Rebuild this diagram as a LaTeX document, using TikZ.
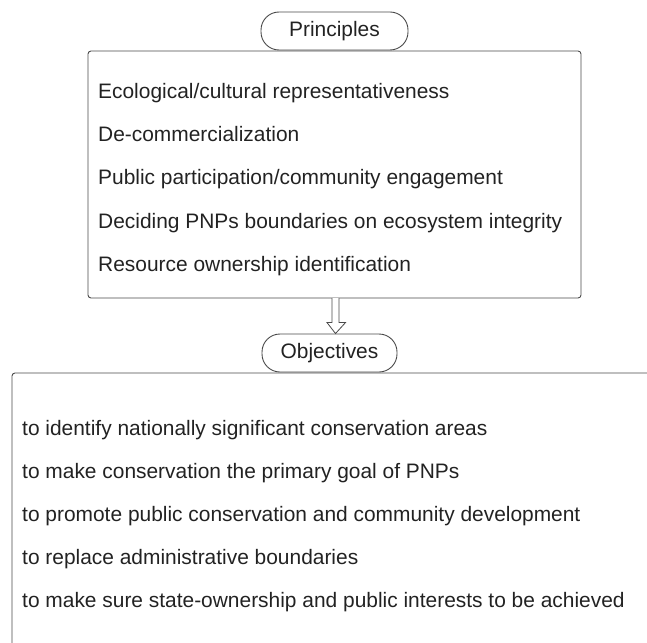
\documentclass[tikz,border=0pt]{standalone}
\usepackage{fontspec}
\setmainfont{Liberation Sans}
\usetikzlibrary{calc}
\definecolor{edge}{HTML}{4A4A4A}
\definecolor{ink}{HTML}{222222}
\tikzset{
  pill/.style={draw=edge, line width=0.9bp, rounded corners=18bp, inner sep=0pt,
    font=\fontsize{21}{25}\selectfont, text=ink},
  panel/.style={draw=edge, line width=0.9bp, rounded corners=3bp},
  item/.style={anchor=base west, inner sep=0pt, font=\fontsize{21}{25}\selectfont, text=ink},
  hollow/.style={draw=edge, line width=0.8bp, fill=white, line join=miter}
}
\begin{document}
\begin{tikzpicture}[x=1bp,y=-1bp]
\useasboundingbox (0,0) rectangle (647,643);
\clip (0,0) rectangle (647,643);

% Principles panel
\draw[panel] (88,51) rectangle (581,298);
\coordinate (pbottom) at (335.5,298);
\node[pill, minimum width=147bp, minimum height=38bp] (ptitle) at (334.5,31) {Principles};

\node[item] (p1) at (98,99) {Ecological/cultural representativeness};
\node[item] (p2) at (98,142) {De-commercialization};
\node[item] (p3) at (98,185) {Public participation/community engagement};
\node[item] (p4) at (98,228) {Deciding PNPs boundaries on ecosystem integrity};
\node[item] (p5) at (98,271) {Resource ownership identification};

% Objectives panel (runs past the right and lower edges)
\draw[panel] (12,373) rectangle (700,720);
\node[pill, minimum width=135bp, minimum height=38bp] (otitle) at (329.5,353) {Objectives};

% hollow arrow between the panels
\draw[hollow] ($(pbottom)+(-3.5,0)$) -- ($(otitle.north)+(2.5,-11)$) -- ($(otitle.north)+(-2.5,-11)$)
  -- ($(otitle.north)+(6,0)$) -- ($(otitle.north)+(16,-11)$) -- ($(otitle.north)+(9.5,-11)$)
  -- ($(pbottom)+(3.5,0)$);

\node[item] (o1) at (22,435) {to identify nationally significant conservation areas};
\node[item] (o2) at (22,478) {to make conservation the primary goal of PNPs};
\node[item] (o3) at (22,521) {to promote public conservation and community development};
\node[item] (o4) at (22,564) {to replace administrative boundaries};
\node[item] (o5) at (22,607) {to make sure state-ownership and public interests to be achieved};
\end{tikzpicture}
\end{document}
